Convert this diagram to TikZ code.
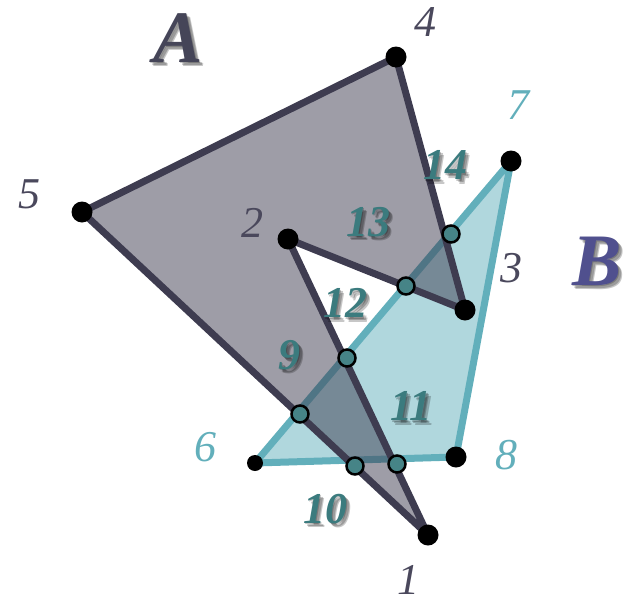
\documentclass[tikz,border=0pt]{standalone}
\usepackage{fontspec}
\setmainfont{Liberation Serif}
\usetikzlibrary{calc}
\definecolor{polyAline}{RGB}{62,60,80}
\definecolor{polyBline}{RGB}{98,175,187}
\definecolor{crossfill}{RGB}{70,132,135}
\definecolor{crosstext}{RGB}{59,123,126}
\definecolor{vtxAtext}{RGB}{74,72,92}
\definecolor{nameA}{RGB}{69,69,88}
\definecolor{nameB}{RGB}{80,80,142}

% soft drop shadow under a label
\newcommand{\shadowtext}[4]{%
  \foreach \d in {1.5,3,4.5} {
    \node[#3, text=black, text opacity=0.22] at ([shift={(\d,\d)}]#2) {#4};
  }
  \node[#3] (#1) at (#2) {#4};
}

\begin{document}
\begin{tikzpicture}[
    x=1pt, y=-1pt,
    polyA/.style={draw=polyAline, line width=7pt, line join=round},
    polyB/.style={draw=polyBline, fill=polyBline!50, line width=7pt, line join=round},
    vtx/.style={circle, fill=black, inner sep=0pt, minimum size=21pt},
    cross/.style={circle, draw=black, fill=crossfill, line width=2.5pt,
                  inner sep=0pt, minimum size=17pt},
    numA/.style={font=\fontsize{44}{44}\selectfont\itshape, text=vtxAtext, inner sep=0pt},
    numB/.style={font=\fontsize{44}{44}\selectfont\itshape, text=polyBline, inner sep=0pt},
    numX/.style={font=\fontsize{44}{44}\selectfont\bfseries\itshape, text=crosstext, inner sep=0pt},
    bigname/.style={font=\fontsize{74}{74}\selectfont\bfseries\itshape, inner sep=0pt},
]
\useasboundingbox (0,0) rectangle (627,600);

% polygon A
\coordinate (p1) at (428,535);
\coordinate (p2) at (288,239);
\coordinate (p3) at (465,310);
\coordinate (p4) at (396,57);
\coordinate (p5) at (82,212);
% polygon B
\coordinate (p6) at (255,463);
\coordinate (p7) at (511,161);
\coordinate (p8) at (456,457);

\draw[polyB] (p6) -- (p7) -- (p8) -- cycle;
\fill[polyAline, opacity=0.5] (p1) -- (p2) -- (p3) -- (p4) -- (p5) -- cycle;
\draw[polyA] (p1) -- (p2) -- (p3) -- (p4) -- (p5) -- cycle;

\node[vtx] (d1) at (p1) {};
\node[vtx] (d2) at (p2) {};
\node[vtx] (d3) at (p3) {};
\node[vtx] (d4) at (p4) {};
\node[vtx] (d5) at (p5) {};
\node[vtx, minimum size=16pt] (d6) at (p6) {};
\node[vtx] (d7) at (p7) {};
\node[vtx] (d8) at (p8) {};

% crossing points
\node[cross] (x9) at (300,414) {};
\node[cross] (x10) at (355,466) {};
\node[cross] (x11) at (397,464) {};
\node[cross] (x12) at (347,358) {};
\node[cross] (x13) at (406,286) {};
\node[cross] (x14) at (451,234) {};

% vertex labels
\node[numA] (l1) at (408,580) {1};
\node[numA] (l2) at (252,223) {2};
\node[numA] (l3) at (511,268) {3};
\node[numA] (l4) at (425,22) {4};
\node[numA] (l5) at (30,194) {5};
\node[numB] (l6) at (205,447) {6};
\node[numB] (l7) at (518,105) {7};
\node[numB] (l8) at (506,455) {8};

% crossing labels
\shadowtext{l9}{289,355}{numX}{9}
\shadowtext{l10}{325,509}{numX}{10}
\shadowtext{l11}{411,406}{numX}{11}
\shadowtext{l12}{345,303}{numX}{12}
\shadowtext{l13}{368,222}{numX}{13}
\shadowtext{l14}{445,165}{numX}{14}

% polygon names
\shadowtext{nA}{178,38}{bigname, text=nameA}{A}
\shadowtext{nB}{597,261}{bigname, text=nameB}{B}

\end{tikzpicture}
\end{document}
